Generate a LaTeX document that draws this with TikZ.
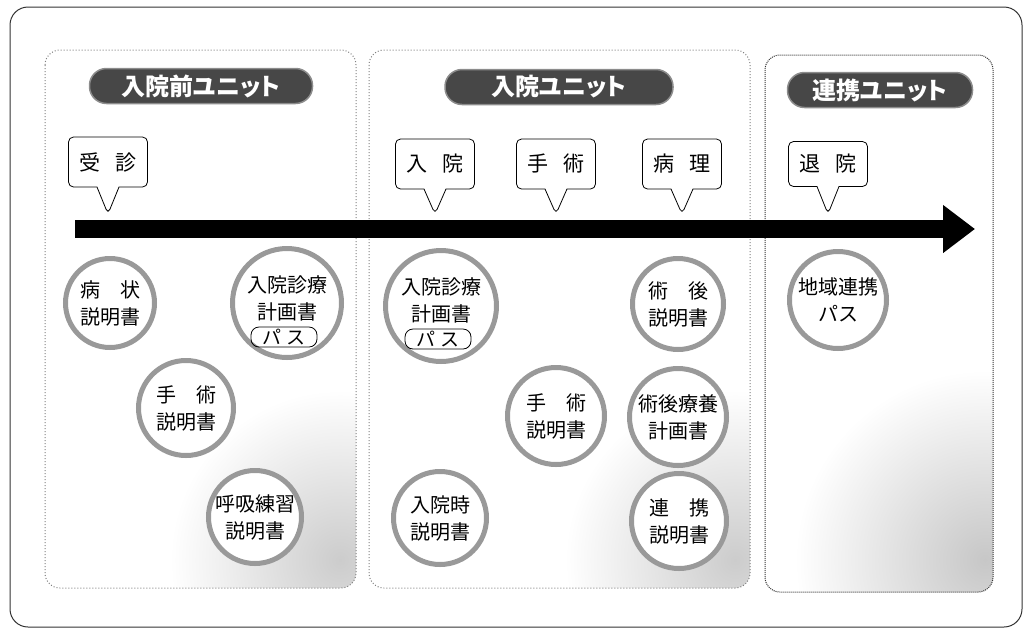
\documentclass[tikz,border=0pt]{standalone}
\usepackage{fontspec}
\setmainfont{Noto Sans CJK JP}
\newfontfamily\pillfont[RawFeature=+palt]{Noto Sans CJK JP}
\usetikzlibrary{arrows.meta,shapes.callouts}

\begin{document}
\begin{tikzpicture}[x=1pt, y=-1pt,
        unit/.style={draw=black!50, dotted, line width=1pt, rounded corners=15pt},
        pill/.style={draw=black!45, line width=1.5pt, fill=black!72, rounded corners=17pt,
            minimum height=35pt, text=white, font=\pillfont\fontsize{24}{24}\selectfont\bfseries},
        balloon/.style={rectangle callout, draw, fill=white, rounded corners=5pt, line width=0.8pt,
            minimum width=79pt, minimum height=50pt, callout pointer width=22pt,
            font=\fontsize{21}{21}\selectfont},
        doc/.style={circle, draw=black!40, line width=5pt, fill=white, inner sep=0pt,
            align=center, font=\fontsize{20}{27}\selectfont},
        pass/.style={draw, rounded corners=8pt, line width=0.8pt, minimum width=66pt,
            minimum height=20pt, inner sep=0pt, font=\fontsize{19}{19}\selectfont},
        timeline/.style={line width=18pt, -{Triangle[length=32pt, width=46pt]}}]
    \useasboundingbox (0,0) rectangle (1025,630);
    % outer frame
    \draw[black!80, line width=1pt, rounded corners=18pt] (10,7) rectangle (1022,627);
    % halftone shading
    \begin{scope}
        \clip[rounded corners=15pt] (45,50) rectangle (356,588);
        \shade[inner color=black!20, outer color=white] (340,560) circle (170pt);
    \end{scope}
    \begin{scope}
        \clip[rounded corners=15pt] (369,50) rectangle (750,588);
        \shade[inner color=black!20, outer color=white] (735,560) circle (170pt);
    \end{scope}
    \begin{scope}
        \clip[rounded corners=15pt] (765,55) rectangle (993,592);
        \shade[inner color=black!22, outer color=white] (985,560) circle (190pt);
    \end{scope}
    % units
    \draw[unit] (45,50) rectangle (356,588);
    \draw[unit] (369,50) rectangle (750,588);
    \draw[unit, draw=black!80, densely dotted] (765,55) rectangle (993,592);
    \node[pill, minimum width=223pt] (pre) at (201,86) {入院前ユニット};
    \node[pill, minimum width=228pt] (adm) at (559,87) {入院ユニット};
    \node[pill, minimum width=185pt] (coop) at (880,90) {連携ユニット};
    % time line
    \coordinate (start) at (75,229);
    \coordinate (end) at (975,229);
    \draw[timeline] (start) -- (end);
    \coordinate (t1) at (108,214);
    \coordinate (t2) at (435,214);
    \coordinate (t3) at (556,214);
    \coordinate (t4) at (682,214);
    \coordinate (t5) at (828,214);
    \node[balloon, callout absolute pointer={(t1)}] (visit) at (108,162) {受\hspace{0.7em}診};
    \node[balloon, callout absolute pointer={(t2)}] (inhosp) at (435,164) {入\hspace{0.7em}院};
    \node[balloon, callout absolute pointer={(t3)}] (surg) at (556,164) {手\hspace{0.7em}術};
    \node[balloon, callout absolute pointer={(t4)}] (path) at (682,164) {病\hspace{0.7em}理};
    \node[balloon, minimum height=45pt, callout absolute pointer={(t5)}] (disch) at (828,164) {退\hspace{0.7em}院};
    % documents before admission
    \node[doc, minimum size=89pt] (symp) at (110,303) {病\hspace{1em}状\\説明書};
    \node[doc, minimum size=109pt] (plan1) at (287,303) {};
    \node[align=center, font=\fontsize{20}{27}\selectfont] at (287,298) {入院診療\\計画書};
    \node[pass] (pass1) at (284,337) {パ\hspace{0.3em}ス};
    \node[doc, minimum size=95pt] (op1) at (186,408) {手\hspace{1em}術\\説明書};
    \node[doc, minimum size=93pt] (breath) at (255,517) {呼吸練習\\説明書};
    % documents during admission
    \node[doc, minimum size=111pt] (plan2) at (441,306) {};
    \node[align=center, font=\fontsize{20}{27}\selectfont] at (441,300) {入院診療\\計画書};
    \node[pass] (pass2) at (438,339) {パ\hspace{0.3em}ス};
    \node[doc, minimum size=91pt] (postop) at (678,304) {術\hspace{1em}後\\説明書};
    \node[doc, minimum size=97pt] (op2) at (556,416) {手\hspace{1em}術\\説明書};
    \node[doc, minimum size=97pt] (care) at (678,417) {術後療養\\計画書};
    \node[doc, minimum size=93pt] (admit) at (440,518) {入院時\\説明書};
    \node[doc, minimum size=95pt] (link) at (679,521) {連\hspace{1em}携\\説明書};
    % documents for cooperation
    \node[doc, minimum size=97pt] (region) at (838,300) {地域連携\\パス};
\end{tikzpicture}
\end{document}
